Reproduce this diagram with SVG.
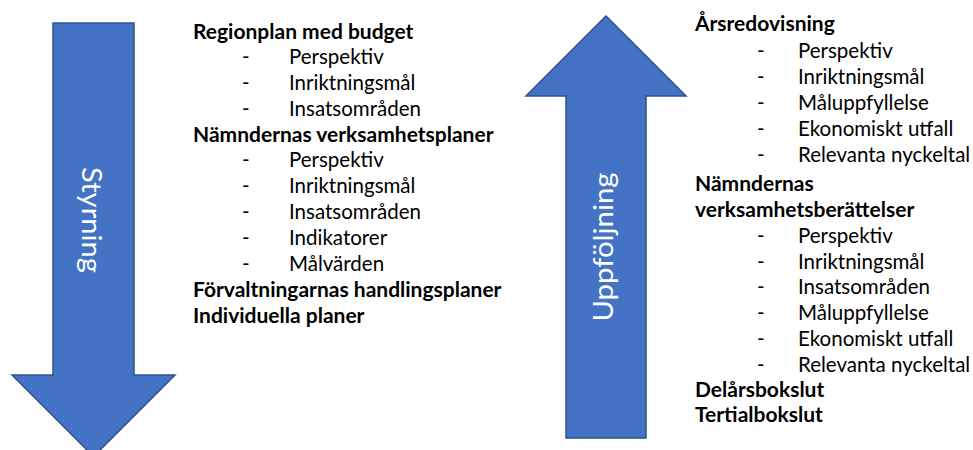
<svg xmlns="http://www.w3.org/2000/svg" width="973" height="450" viewBox="0 0 973 450">
<style>
.arrow{fill:#4472C4;stroke:#2F528F;stroke-width:1.5;stroke-linejoin:miter}
.lbl{font-family:Lato,"Liberation Sans",sans-serif;font-weight:400;font-size:27px;fill:#fff;text-anchor:middle}
.h{font-family:Lato,"Liberation Sans",sans-serif;font-weight:bold;font-size:21px;fill:#000}
.i{font-family:Lato,"Liberation Sans",sans-serif;font-size:20.5px;fill:#000}
</style>
<rect width="973" height="450" fill="#fff"/>
<g id="styrning">
<path class="arrow" d="M53,23 H134 V375 H175 L93.5,456.5 L12,375 H53 Z"/>
<text class="lbl" transform="translate(82,220) rotate(90)" textLength="106" lengthAdjust="spacingAndGlyphs">Styrning</text>
</g>
<g id="uppfoljning">
<path class="arrow" d="M606,16 L686,96 H646 V438 H566 V96 H526 Z"/>
<text class="lbl" transform="translate(613,247) rotate(-90)" textLength="149" lengthAdjust="spacingAndGlyphs">Uppföljning</text>
</g>
<g id="styrning-list">
<text class="h" x="193" y="38.5">Regionplan med budget</text>
<text class="i" x="242" y="63.5">-</text><text class="i" x="289" y="63.5">Perspektiv</text>
<text class="i" x="242" y="89.5">-</text><text class="i" x="289" y="89.5">Inriktningsmål</text>
<text class="i" x="242" y="115.5">-</text><text class="i" x="289" y="115.5">Insatsområden</text>
<text class="h" x="193" y="141.5">Nämndernas verksamhetsplaner</text>
<text class="i" x="242" y="167">-</text><text class="i" x="289" y="167">Perspektiv</text>
<text class="i" x="242" y="192.5">-</text><text class="i" x="289" y="192.5">Inriktningsmål</text>
<text class="i" x="242" y="218.5">-</text><text class="i" x="289" y="218.5">Insatsområden</text>
<text class="i" x="242" y="244.5">-</text><text class="i" x="289" y="244.5">Indikatorer</text>
<text class="i" x="242" y="270.5">-</text><text class="i" x="289" y="270.5">Målvärden</text>
<text class="h" x="193" y="297">Förvaltningarnas handlingsplaner</text>
<text class="h" x="193" y="323">Individuella planer</text>
</g>
<g id="uppfoljning-list">
<text class="h" x="695" y="30.5">Årsredovisning</text>
<text class="i" x="757" y="58">-</text><text class="i" x="798" y="58">Perspektiv</text>
<text class="i" x="757" y="84">-</text><text class="i" x="798" y="84">Inriktningsmål</text>
<text class="i" x="757" y="110">-</text><text class="i" x="798" y="110">Måluppfyllelse</text>
<text class="i" x="757" y="136">-</text><text class="i" x="798" y="136">Ekonomiskt utfall</text>
<text class="i" x="757" y="162">-</text><text class="i" x="798" y="162">Relevanta nyckeltal</text>
<text class="h" x="695" y="191">Nämndernas</text>
<text class="h" x="695" y="217">verksamhetsberättelser</text>
<text class="i" x="757" y="243">-</text><text class="i" x="798" y="243">Perspektiv</text>
<text class="i" x="757" y="268.5">-</text><text class="i" x="798" y="268.5">Inriktningsmål</text>
<text class="i" x="757" y="293.5">-</text><text class="i" x="798" y="293.5">Insatsområden</text>
<text class="i" x="757" y="319.5">-</text><text class="i" x="798" y="319.5">Måluppfyllelse</text>
<text class="i" x="757" y="345.5">-</text><text class="i" x="798" y="345.5">Ekonomiskt utfall</text>
<text class="i" x="757" y="371.5">-</text><text class="i" x="798" y="371.5">Relevanta nyckeltal</text>
<text class="h" x="695" y="396.5">Delårsbokslut</text>
<text class="h" x="695" y="422">Tertialbokslut</text>
</g>
</svg>
